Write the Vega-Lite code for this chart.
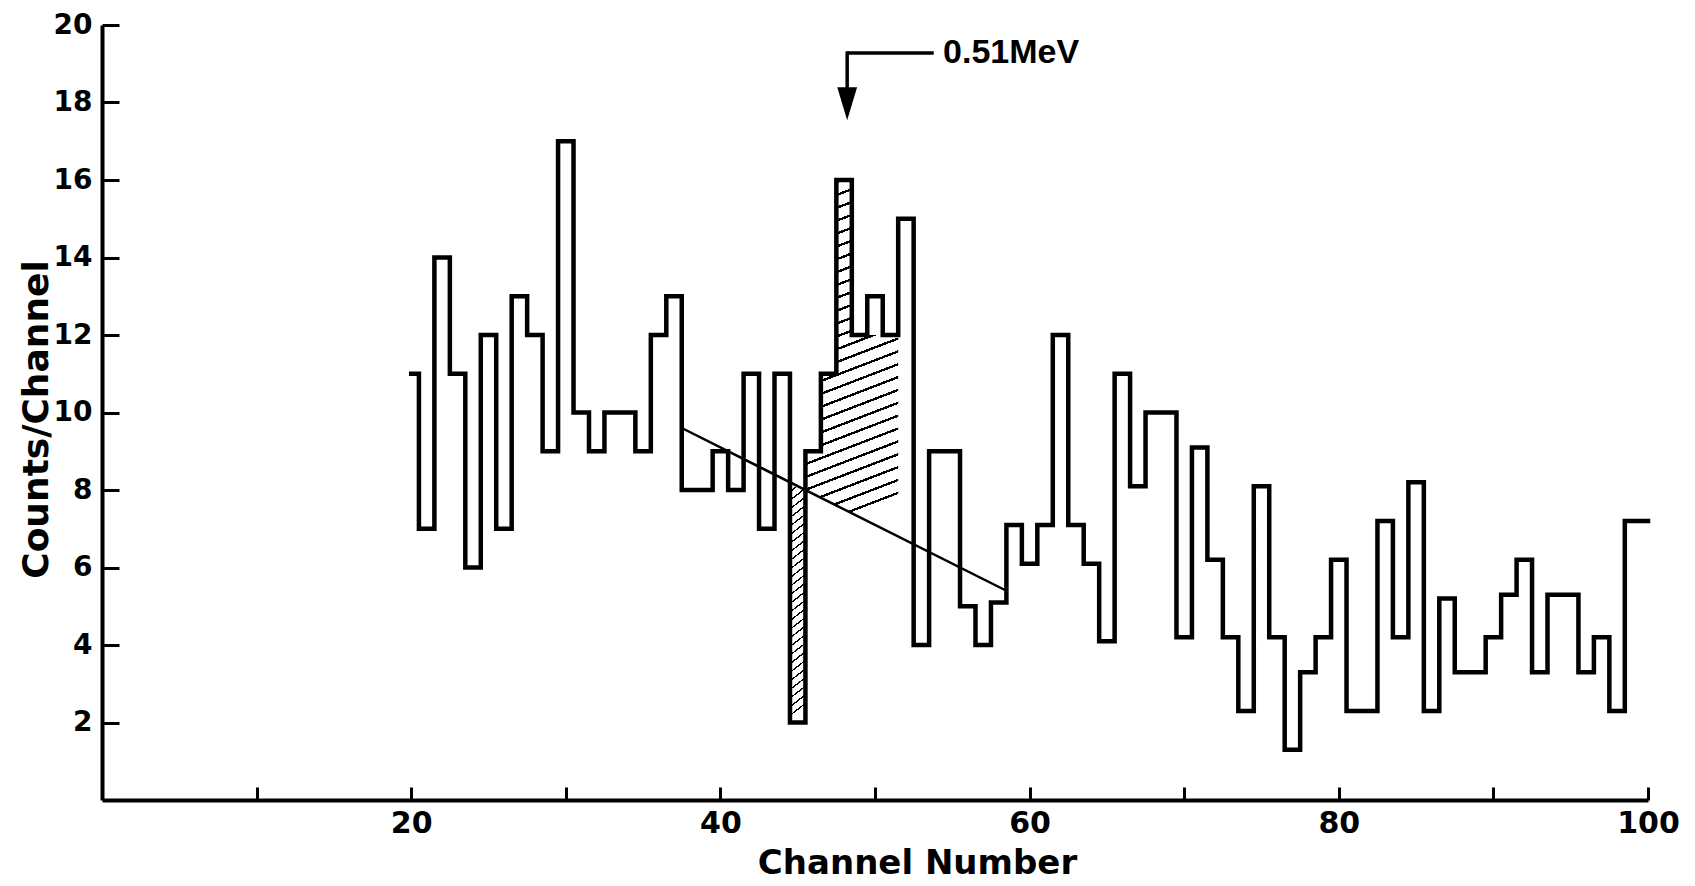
{
  "$schema": "https://vega.github.io/schema/vega-lite/v6.json",
  "width": 1546,
  "height": 775,
  "autosize": {"type": "none"},
  "padding": {"left": 102, "top": 25, "right": 47, "bottom": 86},
  "background": "white",
  "config": {"view": {"stroke": null}, "axis": {"grid": false}},
  "datasets": {
    "hist": [
      {"channel": 20, "counts": 11}, {"channel": 21, "counts": 7}, {"channel": 22, "counts": 14}, {"channel": 23, "counts": 11},
      {"channel": 24, "counts": 6}, {"channel": 25, "counts": 12}, {"channel": 26, "counts": 7}, {"channel": 27, "counts": 13},
      {"channel": 28, "counts": 12}, {"channel": 29, "counts": 9}, {"channel": 30, "counts": 17}, {"channel": 31, "counts": 10},
      {"channel": 32, "counts": 9}, {"channel": 33, "counts": 10}, {"channel": 34, "counts": 10}, {"channel": 35, "counts": 9},
      {"channel": 36, "counts": 12}, {"channel": 37, "counts": 13}, {"channel": 38, "counts": 8}, {"channel": 39, "counts": 8},
      {"channel": 40, "counts": 9}, {"channel": 41, "counts": 8}, {"channel": 42, "counts": 11}, {"channel": 43, "counts": 7},
      {"channel": 44, "counts": 11}, {"channel": 45, "counts": 2}, {"channel": 46, "counts": 9}, {"channel": 47, "counts": 11},
      {"channel": 48, "counts": 16}, {"channel": 49, "counts": 12}, {"channel": 50, "counts": 13}, {"channel": 51, "counts": 12},
      {"channel": 52, "counts": 15}, {"channel": 53, "counts": 4}, {"channel": 54, "counts": 9}, {"channel": 55, "counts": 9},
      {"channel": 56, "counts": 5}, {"channel": 57, "counts": 4}, {"channel": 58, "counts": 5.1}, {"channel": 59, "counts": 7.1},
      {"channel": 60, "counts": 6.1}, {"channel": 61, "counts": 7.1}, {"channel": 62, "counts": 12}, {"channel": 63, "counts": 7.1},
      {"channel": 64, "counts": 6.1}, {"channel": 65, "counts": 4.1}, {"channel": 66, "counts": 11}, {"channel": 67, "counts": 8.1},
      {"channel": 68, "counts": 10}, {"channel": 69, "counts": 10}, {"channel": 70, "counts": 4.2}, {"channel": 71, "counts": 9.1},
      {"channel": 72, "counts": 6.2}, {"channel": 73, "counts": 4.2}, {"channel": 74, "counts": 2.3}, {"channel": 75, "counts": 8.1},
      {"channel": 76, "counts": 4.2}, {"channel": 77, "counts": 1.3}, {"channel": 78, "counts": 3.3}, {"channel": 79, "counts": 4.2},
      {"channel": 80, "counts": 6.2}, {"channel": 81, "counts": 2.3}, {"channel": 82, "counts": 2.3}, {"channel": 83, "counts": 7.2},
      {"channel": 84, "counts": 4.2}, {"channel": 85, "counts": 8.2}, {"channel": 86, "counts": 2.3}, {"channel": 87, "counts": 5.2},
      {"channel": 88, "counts": 3.3}, {"channel": 89, "counts": 3.3}, {"channel": 90, "counts": 4.2}, {"channel": 91, "counts": 5.3},
      {"channel": 92, "counts": 6.2}, {"channel": 93, "counts": 3.3}, {"channel": 94, "counts": 5.3}, {"channel": 95, "counts": 5.3},
      {"channel": 96, "counts": 3.3}, {"channel": 97, "counts": 4.2}, {"channel": 98, "counts": 2.3}, {"channel": 99, "counts": 7.2},
      {"channel": 100, "counts": 7.2}
    ],
    "hatch": [
      {"region": "A", "channel": 45.5, "top": 9, "base": 8.0},
      {"region": "A", "channel": 46.5, "top": 9, "base": 7.8},
      {"region": "A", "channel": 46.5, "top": 11, "base": 7.8},
      {"region": "A", "channel": 47.5, "top": 11, "base": 7.6},
      {"region": "A", "channel": 47.5, "top": 16, "base": 7.6},
      {"region": "A", "channel": 48.5, "top": 16, "base": 7.4},
      {"region": "A", "channel": 48.5, "top": 12, "base": 7.4},
      {"region": "A", "channel": 51.5, "top": 12, "base": 6.8},
      {"region": "B", "channel": 44.5, "top": 8.2, "base": 2},
      {"region": "B", "channel": 45.5, "top": 8.0, "base": 2}
    ],
    "background": [
      {"channel": 37.5, "counts": 9.6},
      {"channel": 58.5, "counts": 5.4}
    ]
  },
  "layer": [
    {
      "data": {"name": "hatch"},
      "transform": [{"filter": "datum.region === 'A'"}],
      "mark": {
        "type": "area", "interpolate": "linear", "opacity": 1,
        "fill": {"gradient": "linear", "x1": 0, "y1": 0, "x2": 0.1, "y2": 1, "stops": [
          {"offset": 0, "color": "black"}, {"offset": 0.007, "color": "black"}, {"offset": 0.007, "color": "white"}, {"offset": 0.0357, "color": "white"},
          {"offset": 0.0357, "color": "black"}, {"offset": 0.0427, "color": "black"}, {"offset": 0.0427, "color": "white"}, {"offset": 0.0714, "color": "white"},
          {"offset": 0.0714, "color": "black"}, {"offset": 0.0784, "color": "black"}, {"offset": 0.0784, "color": "white"}, {"offset": 0.1071, "color": "white"},
          {"offset": 0.1071, "color": "black"}, {"offset": 0.1141, "color": "black"}, {"offset": 0.1141, "color": "white"}, {"offset": 0.1429, "color": "white"},
          {"offset": 0.1429, "color": "black"}, {"offset": 0.1499, "color": "black"}, {"offset": 0.1499, "color": "white"}, {"offset": 0.1786, "color": "white"},
          {"offset": 0.1786, "color": "black"}, {"offset": 0.1856, "color": "black"}, {"offset": 0.1856, "color": "white"}, {"offset": 0.2143, "color": "white"},
          {"offset": 0.2143, "color": "black"}, {"offset": 0.2213, "color": "black"}, {"offset": 0.2213, "color": "white"}, {"offset": 0.25, "color": "white"},
          {"offset": 0.25, "color": "black"}, {"offset": 0.257, "color": "black"}, {"offset": 0.257, "color": "white"}, {"offset": 0.2857, "color": "white"},
          {"offset": 0.2857, "color": "black"}, {"offset": 0.2927, "color": "black"}, {"offset": 0.2927, "color": "white"}, {"offset": 0.3214, "color": "white"},
          {"offset": 0.3214, "color": "black"}, {"offset": 0.3284, "color": "black"}, {"offset": 0.3284, "color": "white"}, {"offset": 0.3571, "color": "white"},
          {"offset": 0.3571, "color": "black"}, {"offset": 0.3641, "color": "black"}, {"offset": 0.3641, "color": "white"}, {"offset": 0.3929, "color": "white"},
          {"offset": 0.3929, "color": "black"}, {"offset": 0.3999, "color": "black"}, {"offset": 0.3999, "color": "white"}, {"offset": 0.4286, "color": "white"},
          {"offset": 0.4286, "color": "black"}, {"offset": 0.4356, "color": "black"}, {"offset": 0.4356, "color": "white"}, {"offset": 0.4643, "color": "white"},
          {"offset": 0.4643, "color": "black"}, {"offset": 0.4713, "color": "black"}, {"offset": 0.4713, "color": "white"}, {"offset": 0.5, "color": "white"},
          {"offset": 0.5, "color": "black"}, {"offset": 0.507, "color": "black"}, {"offset": 0.507, "color": "white"}, {"offset": 0.5357, "color": "white"},
          {"offset": 0.5357, "color": "black"}, {"offset": 0.5427, "color": "black"}, {"offset": 0.5427, "color": "white"}, {"offset": 0.5714, "color": "white"},
          {"offset": 0.5714, "color": "black"}, {"offset": 0.5784, "color": "black"}, {"offset": 0.5784, "color": "white"}, {"offset": 0.6071, "color": "white"},
          {"offset": 0.6071, "color": "black"}, {"offset": 0.6141, "color": "black"}, {"offset": 0.6141, "color": "white"}, {"offset": 0.6429, "color": "white"},
          {"offset": 0.6429, "color": "black"}, {"offset": 0.6499, "color": "black"}, {"offset": 0.6499, "color": "white"}, {"offset": 0.6786, "color": "white"},
          {"offset": 0.6786, "color": "black"}, {"offset": 0.6856, "color": "black"}, {"offset": 0.6856, "color": "white"}, {"offset": 0.7143, "color": "white"},
          {"offset": 0.7143, "color": "black"}, {"offset": 0.7213, "color": "black"}, {"offset": 0.7213, "color": "white"}, {"offset": 0.75, "color": "white"},
          {"offset": 0.75, "color": "black"}, {"offset": 0.757, "color": "black"}, {"offset": 0.757, "color": "white"}, {"offset": 0.7857, "color": "white"},
          {"offset": 0.7857, "color": "black"}, {"offset": 0.7927, "color": "black"}, {"offset": 0.7927, "color": "white"}, {"offset": 0.8214, "color": "white"},
          {"offset": 0.8214, "color": "black"}, {"offset": 0.8284, "color": "black"}, {"offset": 0.8284, "color": "white"}, {"offset": 0.8571, "color": "white"},
          {"offset": 0.8571, "color": "black"}, {"offset": 0.8641, "color": "black"}, {"offset": 0.8641, "color": "white"}, {"offset": 0.8929, "color": "white"},
          {"offset": 0.8929, "color": "black"}, {"offset": 0.8999, "color": "black"}, {"offset": 0.8999, "color": "white"}, {"offset": 0.9286, "color": "white"},
          {"offset": 0.9286, "color": "black"}, {"offset": 0.9356, "color": "black"}, {"offset": 0.9356, "color": "white"}, {"offset": 0.9643, "color": "white"},
          {"offset": 0.9643, "color": "black"}, {"offset": 0.9713, "color": "black"}, {"offset": 0.9713, "color": "white"}, {"offset": 1, "color": "white"}
        ]}
      },
      "encoding": {
        "x": {"field": "channel", "type": "quantitative", "scale": {"domain": [0, 100], "nice": false, "zero": false}},
        "y": {"field": "top", "type": "quantitative", "scale": {"domain": [0, 20], "nice": false}},
        "y2": {"field": "base"}
      }
    },
    {
      "data": {"name": "hatch"},
      "transform": [{"filter": "datum.region === 'B'"}],
      "mark": {
        "type": "area", "interpolate": "linear", "opacity": 1,
        "fill": {"gradient": "linear", "x1": 0, "y1": 0, "x2": 0.05, "y2": 1, "stops": [
          {"offset": 0, "color": "black"}, {"offset": 0.007, "color": "black"}, {"offset": 0.007, "color": "white"}, {"offset": 0.0357, "color": "white"},
          {"offset": 0.0357, "color": "black"}, {"offset": 0.0427, "color": "black"}, {"offset": 0.0427, "color": "white"}, {"offset": 0.0714, "color": "white"},
          {"offset": 0.0714, "color": "black"}, {"offset": 0.0784, "color": "black"}, {"offset": 0.0784, "color": "white"}, {"offset": 0.1071, "color": "white"},
          {"offset": 0.1071, "color": "black"}, {"offset": 0.1141, "color": "black"}, {"offset": 0.1141, "color": "white"}, {"offset": 0.1429, "color": "white"},
          {"offset": 0.1429, "color": "black"}, {"offset": 0.1499, "color": "black"}, {"offset": 0.1499, "color": "white"}, {"offset": 0.1786, "color": "white"},
          {"offset": 0.1786, "color": "black"}, {"offset": 0.1856, "color": "black"}, {"offset": 0.1856, "color": "white"}, {"offset": 0.2143, "color": "white"},
          {"offset": 0.2143, "color": "black"}, {"offset": 0.2213, "color": "black"}, {"offset": 0.2213, "color": "white"}, {"offset": 0.25, "color": "white"},
          {"offset": 0.25, "color": "black"}, {"offset": 0.257, "color": "black"}, {"offset": 0.257, "color": "white"}, {"offset": 0.2857, "color": "white"},
          {"offset": 0.2857, "color": "black"}, {"offset": 0.2927, "color": "black"}, {"offset": 0.2927, "color": "white"}, {"offset": 0.3214, "color": "white"},
          {"offset": 0.3214, "color": "black"}, {"offset": 0.3284, "color": "black"}, {"offset": 0.3284, "color": "white"}, {"offset": 0.3571, "color": "white"},
          {"offset": 0.3571, "color": "black"}, {"offset": 0.3641, "color": "black"}, {"offset": 0.3641, "color": "white"}, {"offset": 0.3929, "color": "white"},
          {"offset": 0.3929, "color": "black"}, {"offset": 0.3999, "color": "black"}, {"offset": 0.3999, "color": "white"}, {"offset": 0.4286, "color": "white"},
          {"offset": 0.4286, "color": "black"}, {"offset": 0.4356, "color": "black"}, {"offset": 0.4356, "color": "white"}, {"offset": 0.4643, "color": "white"},
          {"offset": 0.4643, "color": "black"}, {"offset": 0.4713, "color": "black"}, {"offset": 0.4713, "color": "white"}, {"offset": 0.5, "color": "white"},
          {"offset": 0.5, "color": "black"}, {"offset": 0.507, "color": "black"}, {"offset": 0.507, "color": "white"}, {"offset": 0.5357, "color": "white"},
          {"offset": 0.5357, "color": "black"}, {"offset": 0.5427, "color": "black"}, {"offset": 0.5427, "color": "white"}, {"offset": 0.5714, "color": "white"},
          {"offset": 0.5714, "color": "black"}, {"offset": 0.5784, "color": "black"}, {"offset": 0.5784, "color": "white"}, {"offset": 0.6071, "color": "white"},
          {"offset": 0.6071, "color": "black"}, {"offset": 0.6141, "color": "black"}, {"offset": 0.6141, "color": "white"}, {"offset": 0.6429, "color": "white"},
          {"offset": 0.6429, "color": "black"}, {"offset": 0.6499, "color": "black"}, {"offset": 0.6499, "color": "white"}, {"offset": 0.6786, "color": "white"},
          {"offset": 0.6786, "color": "black"}, {"offset": 0.6856, "color": "black"}, {"offset": 0.6856, "color": "white"}, {"offset": 0.7143, "color": "white"},
          {"offset": 0.7143, "color": "black"}, {"offset": 0.7213, "color": "black"}, {"offset": 0.7213, "color": "white"}, {"offset": 0.75, "color": "white"},
          {"offset": 0.75, "color": "black"}, {"offset": 0.757, "color": "black"}, {"offset": 0.757, "color": "white"}, {"offset": 0.7857, "color": "white"},
          {"offset": 0.7857, "color": "black"}, {"offset": 0.7927, "color": "black"}, {"offset": 0.7927, "color": "white"}, {"offset": 0.8214, "color": "white"},
          {"offset": 0.8214, "color": "black"}, {"offset": 0.8284, "color": "black"}, {"offset": 0.8284, "color": "white"}, {"offset": 0.8571, "color": "white"},
          {"offset": 0.8571, "color": "black"}, {"offset": 0.8641, "color": "black"}, {"offset": 0.8641, "color": "white"}, {"offset": 0.8929, "color": "white"},
          {"offset": 0.8929, "color": "black"}, {"offset": 0.8999, "color": "black"}, {"offset": 0.8999, "color": "white"}, {"offset": 0.9286, "color": "white"},
          {"offset": 0.9286, "color": "black"}, {"offset": 0.9356, "color": "black"}, {"offset": 0.9356, "color": "white"}, {"offset": 0.9643, "color": "white"},
          {"offset": 0.9643, "color": "black"}, {"offset": 0.9713, "color": "black"}, {"offset": 0.9713, "color": "white"}, {"offset": 1, "color": "white"}
        ]}
      },
      "encoding": {
        "x": {"field": "channel", "type": "quantitative"},
        "y": {"field": "top", "type": "quantitative"},
        "y2": {"field": "base"}
      }
    },
    {
      "data": {"name": "hist"},
      "mark": {"type": "line", "interpolate": "step", "color": "black", "strokeWidth": 4.5, "strokeJoin": "miter", "strokeCap": "square"},
      "encoding": {
        "x": {
          "field": "channel", "type": "quantitative",
          "scale": {"domain": [0, 100], "nice": false, "zero": false},
          "axis": {
            "title": "Channel Number",
            "values": [10, 20, 30, 40, 50, 60, 70, 80, 90, 100],
            "labelExpr": "datum.value % 20 === 0 ? datum.label : ''",
            "domainColor": "black", "domainWidth": 4,
            "tickColor": "black", "tickWidth": 3, "tickSize": -13,
            "labelPadding": 21, "labelFont": "DejaVu Sans", "labelFontSize": 30, "labelFontWeight": "bold", "labelColor": "black",
            "labelFlush": false, "labelOverlap": false,
            "titleFont": "DejaVu Sans", "titleFontSize": 34, "titleFontWeight": "bold", "titleColor": "black",
            "titleX": 815, "titleY": 63, "titleAlign": "center", "titleBaseline": "middle", "titleAnchor": null
          }
        },
        "y": {
          "field": "counts", "type": "quantitative",
          "scale": {"domain": [0, 20], "nice": false},
          "axis": {
            "title": "Counts/Channel",
            "values": [2, 4, 6, 8, 10, 12, 14, 16, 18, 20],
            "domainColor": "black", "domainWidth": 4,
            "tickColor": "black", "tickWidth": 3, "tickSize": -17,
            "labelPadding": 27, "labelFont": "DejaVu Sans", "labelFontSize": 28, "labelFontWeight": "bold", "labelColor": "black",
            "labelFlush": false, "labelOverlap": false,
            "titleFont": "DejaVu Sans", "titleFontSize": 36, "titleFontWeight": "bold", "titleColor": "black",
            "titleAngle": -90, "titleX": -66, "titleY": 394, "titleAlign": "center", "titleBaseline": "middle", "titleAnchor": null
          }
        }
      }
    },
    {
      "data": {"name": "background"},
      "mark": {"type": "line", "color": "black", "strokeWidth": 2.5},
      "encoding": {
        "x": {"field": "channel", "type": "quantitative"},
        "y": {"field": "counts", "type": "quantitative"}
      }
    },
    {
      "data": {"values": [{}]},
      "mark": {"type": "rule", "color": "black", "strokeWidth": 3.5},
      "encoding": {
        "x": {"datum": 48.2}, "x2": {"datum": 53.8},
        "y": {"datum": 19.28}
      }
    },
    {
      "data": {"values": [{}]},
      "mark": {"type": "rule", "color": "black", "strokeWidth": 3.5},
      "encoding": {
        "x": {"datum": 48.2},
        "y": {"datum": 19.32}, "y2": {"datum": 18.3}
      }
    },
    {
      "data": {"values": [{}]},
      "mark": {"type": "point", "shape": "M-0.6,-1L0.6,-1L0,1Z", "size": 1089, "filled": true, "color": "black", "opacity": 1},
      "encoding": {
        "x": {"datum": 48.2},
        "y": {"datum": 17.97}
      }
    },
    {
      "data": {"values": [{}]},
      "mark": {"type": "text", "text": "0.51MeV", "align": "left", "baseline": "middle", "font": "Liberation Sans", "fontSize": 34, "fontWeight": "bold", "color": "black"},
      "encoding": {
        "x": {"datum": 54.4},
        "y": {"datum": 19.28}
      }
    }
  ]
}
